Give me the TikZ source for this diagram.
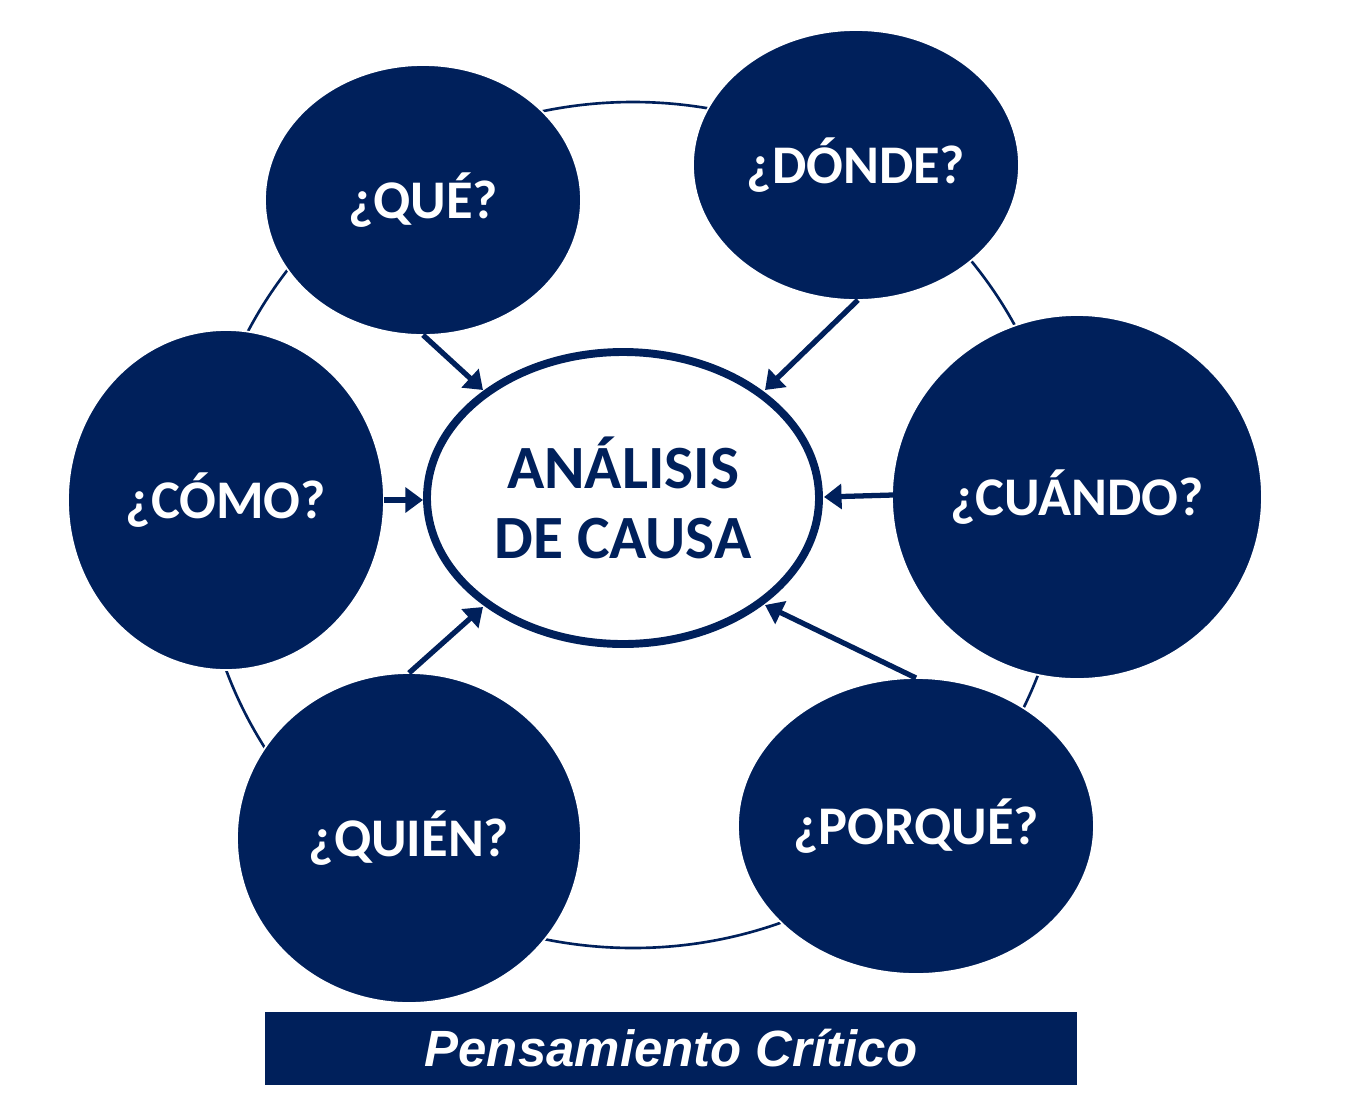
\documentclass[tikz,border=0pt]{standalone}
\usepackage{fontspec}
\setmainfont{Carlito}
\newfontfamily\bannerfont{Liberation Sans}
\usetikzlibrary{shapes.geometric,arrows.meta}
\definecolor{navy}{HTML}{00205B}
\tikzset{
  q/.style={ellipse,fill=navy,draw=white,line width=1pt,text=white,font=\fontsize{31}{34}\selectfont\bfseries,inner sep=0pt},
  conn/.style={draw=navy,line width=3pt,-{Triangle[length=10pt,width=14pt]}},
}
\begin{document}
\begin{tikzpicture}[x=0.02cm,y=-0.02cm]
\useasboundingbox (0,0) rectangle (1350,1110);
\draw[navy,line width=1.5pt] (633,525) ellipse [x radius=433, y radius=423];
\node[q,minimum width=316\pgflinewidth/1pt*0+316*0.02cm,minimum height=270*0.02cm] (que) at (423,200) {¿QUÉ?};
\node[q,minimum width=326*0.02cm,minimum height=270*0.02cm] (donde) at (856,165) {¿DÓNDE?};
\node[q,minimum width=370*0.02cm,minimum height=364*0.02cm] (cuando) at (1077,497) {¿CUÁNDO?};
\node[q,minimum width=356*0.02cm,minimum height=296*0.02cm] (porque) at (916,826) {¿PORQUÉ?};
\node[q,minimum width=344*0.02cm,minimum height=330*0.02cm] (quien) at (409,838) {¿QUIÉN?};
\node[q,minimum width=316*0.02cm,minimum height=340*0.02cm] (como) at (226,500) {¿CÓMO?};
\node[ellipse,fill=white,draw=navy,line width=4.5pt,minimum width=392*0.02cm,minimum height=292*0.02cm,text=navy,align=center,font=\fontsize{35}{40}\selectfont\bfseries] (center) at (623,498) {ANÁLISIS\\DE CAUSA};
\coordinate (a1) at (423,335); \coordinate (b1) at (483,390);
\coordinate (a2) at (858,300); \coordinate (b2) at (765,390);
\coordinate (a3) at (893,495); \coordinate (b3) at (824,497);
\coordinate (a4) at (916,678); \coordinate (b4) at (765,605);
\coordinate (a5) at (409,673); \coordinate (b5) at (483,607);
\coordinate (a6) at (384,500); \coordinate (b6) at (423,500);
\foreach \i in {1,...,6} \draw[conn] (a\i) -- (b\i);
\node[fill=navy,minimum width=812*0.02cm,minimum height=73*0.02cm,text=white,font=\bannerfont\fontsize{29}{32}\selectfont\bfseries\itshape] (banner) at (671,1048) {Pensamiento Crítico};
\end{tikzpicture}
\end{document}
